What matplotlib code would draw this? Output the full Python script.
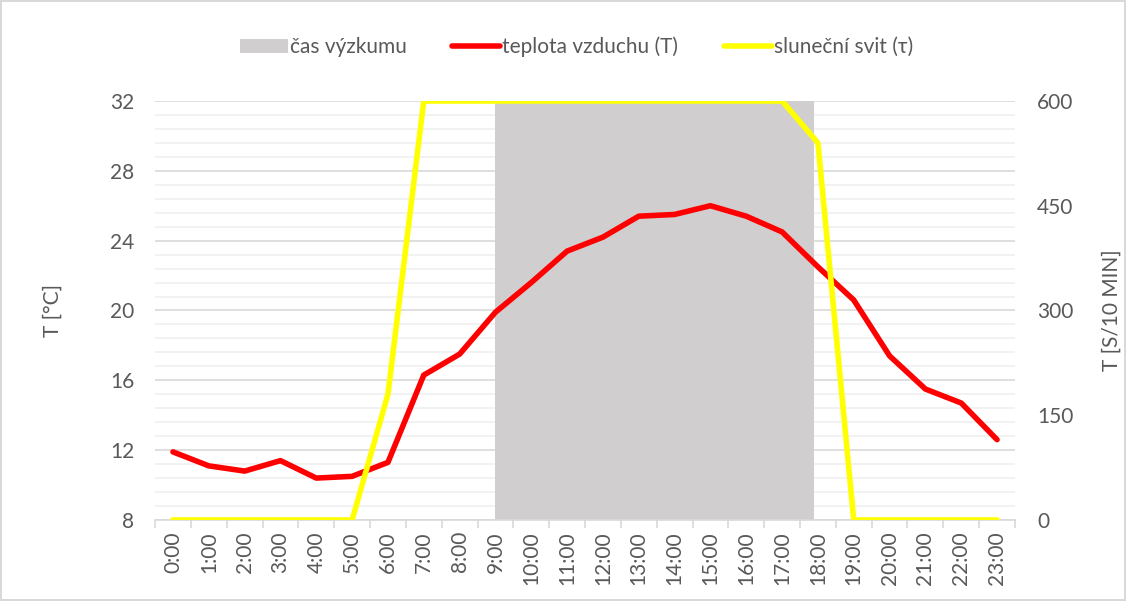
import numpy as np
import matplotlib
matplotlib.use("Agg")
import matplotlib.pyplot as plt
from matplotlib.patches import Patch
from matplotlib.lines import Line2D
from matplotlib.ticker import MultipleLocator, FixedLocator

plt.rcParams["font.family"] = ["Lato", "DejaVu Sans"]

# hodiny mereni
HOURS = [f"{h}:00" for h in range(24)]
# teplota vzduchu (T) [°C]
TEMP = [11.9, 11.1, 10.8, 11.4, 10.4, 10.5, 11.3, 16.3, 17.5, 19.9, 21.6, 23.4,
        24.2, 25.4, 25.5, 26.0, 25.4, 24.5, 22.5, 20.6, 17.4, 15.5, 14.7, 12.6]
# slunecni svit (tau) [s/10 min]
SUN = [0, 0, 0, 0, 0, 0, 180, 600, 600, 600, 600, 600,
       600, 600, 600, 600, 600, 600, 540, 0, 0, 0, 0, 0]
# cas vyzkumu (od - do, index hodiny)
STUDY = (9, 17.9)

TXT = "#595959"
RED = "#FF0000"
YEL = "#FFFF00"
GRAY = "#D0CECE"
FS = 15

fig = plt.figure(figsize=(11.26, 6.01), dpi=100)
ax = fig.add_axes([0.1377, 0.1348, 0.7637, 0.6972])
ax2 = ax.twinx()

x = np.arange(len(HOURS))
ax.axvspan(STUDY[0], STUDY[1], color=GRAY, lw=0, zorder=1)
ax.plot(x, TEMP, color=RED, lw=4, solid_capstyle="round", zorder=3)
ax2.plot(x, SUN, color=YEL, lw=4, solid_capstyle="round")

ax.set_xlim(-0.5, len(HOURS) - 0.5)
ax.set_ylim(8, 32)
ax2.set_ylim(0, 600)
ax.yaxis.set_major_locator(MultipleLocator(4))
ax.yaxis.set_minor_locator(FixedLocator(np.arange(8, 32.01, 0.8)))
ax2.yaxis.set_major_locator(MultipleLocator(150))

ax.set_axisbelow(True)
ax.grid(axis="y", which="major", color="#D9D9D9", lw=1.2)
ax.grid(axis="y", which="minor", color="#F0F0F0", lw=1.2)

ax.set_xticks(x)
ax.set_xticklabels(HOURS, rotation=90)
ax.xaxis.set_minor_locator(FixedLocator(np.arange(-0.5, len(HOURS), 1)))
ax.tick_params(axis="x", which="major", length=0, pad=8, labelsize=FS, labelcolor=TXT)
ax.tick_params(axis="x", which="minor", length=6, color="#D9D9D9", width=1.2)
ax.tick_params(axis="y", which="both", length=0, pad=15, labelsize=FS, labelcolor=TXT)
ax2.tick_params(axis="y", length=0, pad=16, labelsize=FS, labelcolor=TXT)

for a in (ax, ax2):
    for s in ("top", "left", "right"):
        a.spines[s].set_visible(False)
ax2.spines["bottom"].set_visible(False)
ax.spines["bottom"].set_color("#D9D9D9")
ax.spines["bottom"].set_linewidth(1.2)

ax.set_ylabel("T [°C]", fontsize=FS, color=TXT, labelpad=34)
ax2.set_ylabel("T [S/10 MIN]", fontsize=FS, color=TXT, labelpad=20)

handles = [Patch(facecolor=GRAY, edgecolor="none"),
           Line2D([], [], color=RED, lw=4, solid_capstyle="round"),
           Line2D([], [], color=YEL, lw=4, solid_capstyle="round")]
labels = ["čas výzkumu", "teplota vzduchu (T)", "sluneční svit (τ)"]
fig.legend(handles, labels, loc="center", bbox_to_anchor=(0.512, 0.922), ncol=3,
           frameon=False, fontsize=FS, labelcolor=TXT, handlelength=2.3,
           handletextpad=0.1, columnspacing=2.2)

fig.patch.set_edgecolor("#D9D9D9")
fig.patch.set_linewidth(1.5)
fig.savefig("out.png", dpi=100)
